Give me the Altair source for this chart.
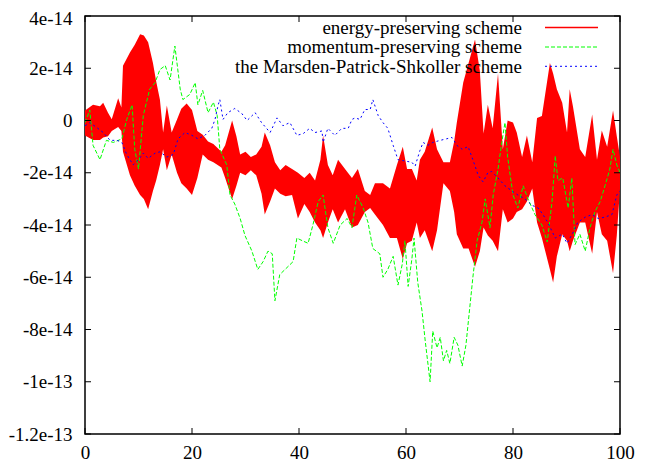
import altair as alt
import pandas as pd

# ---------------- data (y values in units of 1e-14) ----------------
X_TICKS = [0, 20, 40, 60, 80, 100]
Y_TICKS = [4, 2, 0, -2, -4, -6, -8, -10, -12]
Y_TICK_LABELS = ["4e-14", "2e-14", "0", "-2e-14", "-4e-14", "-6e-14", "-8e-14", "-1e-13", "-1.2e-13"]
SERIES = ["energy-preserving scheme", "momentum-preserving scheme", "the Marsden-Patrick-Shkoller scheme"]
COLORS = ["#ff0000", "#00ff00", "#0000ff"]

energy_x = [0, 1.5, 2.8, 3.4, 4.3, 5.0, 6.2, 6.8, 7.1, 8.4,
            9.3, 10.3, 11.0, 11.8, 12.7, 13.3, 14.0, 14.6, 15.3, 16.2,
            17.2, 18.0, 19.0, 20.0, 21.0, 22.0, 23.0, 24.0, 25.5, 26.2,
            27.5, 28.3, 29.0, 30.0, 31.0, 32.0, 33.0, 33.6, 34.6, 35.5,
            36.5, 37.5, 38.7, 39.8, 41.0, 42.0, 43.0, 44.0, 44.5, 45.4,
            46.3, 47.3, 48.6, 49.9, 51.0, 52.3, 53.3, 54.2, 55.7, 57.0,
            58.3, 59.4, 60.2, 61.1, 62.0, 62.6, 63.5, 64.9, 65.8, 67.0,
            68.2, 69.0, 69.5, 70.7, 71.7, 72.9, 73.8, 74.5, 75.3, 76.2,
            77.2, 78.1, 79.0, 80.0, 80.7, 81.7, 82.6, 83.6, 84.5, 85.4,
            86.9, 87.5, 88.2, 89.2, 90.1, 90.6, 91.2, 92.5, 93.5, 94.8,
            95.7, 96.6, 97.6, 98.7, 99.4, 100]
energy_upper = [0.38, 0.6, 0.55, 0.68, 0.3, 0.05, 0.85, 0.5, 2.1, 2.6,
                2.9, 3.3, 3.25, 3.0, 2.2, 1.5, 0.8, -0.46, 0.57, -0.46,
                0.04, 0.45, 0.65, 0.4, -0.4, -0.55, -0.8, -0.9, -1.2, -0.95,
                0.0, -0.6, -1.3, -1.2, -1.4, -1.3, -1.0, -0.46, -0.95, -1.6,
                -1.9, -1.7, -1.86, -2.0, -2.2, -2.0, -2.3, -1.5, -0.57, -1.7,
                -2.1, -1.5, -1.86, -2.2, -1.86, -2.7, -2.85, -2.4, -2.4, -2.6,
                -1.7, -1.0, -1.86, -1.86, -2.3, -1.5, -1.2, -0.27, -1.1, -1.6,
                -1.6, -0.8, -0.08, 1.45, 2.2, 3.1, 1.9, -0.5, 0.6, -0.3,
                1.8, -1.1, 0.0, -0.08, -0.46, -1.4, -0.57, -1.6, 0.1, 0.17,
                2.2, 1.8, 1.2, 0.68, -0.46, 1.2, 0.55, -1.1, -1.4, 0.23,
                -1.5, -0.38, -1.0, 0.38, -0.6, -1.4]
energy_lower = [-0.57, -0.75, -0.75, -0.65, -0.6, -0.4, -0.25, -0.4, -1.2, -2.1,
                -2.5, -2.85, -3.0, -3.4, -2.7, -2.3, -1.7, -1.1, -1.9, -1.3,
                -2.0, -2.4, -2.6, -2.85, -2.2, -1.3, -1.5, -1.6, -1.8, -2.2,
                -3.0, -2.5, -2.0, -2.1, -1.9, -2.1, -2.8, -3.6, -3.1, -2.6,
                -2.8, -2.9, -2.85, -3.75, -3.2, -3.5, -3.9, -4.2, -4.5, -3.9,
                -3.4, -3.9, -3.4, -4.1, -4.0, -3.5, -3.35, -3.6, -4.0, -4.5,
                -4.5, -5.3, -4.7, -4.6, -3.9, -4.5, -4.2, -5.0, -4.2, -2.4,
                -2.7, -3.5, -4.35, -4.9, -4.9, -5.6, -5.0, -4.1, -4.4, -4.6,
                -5.0, -3.4, -3.9, -3.75, -3.5, -3.4, -3.1, -2.6, -3.9, -4.5,
                -5.7, -6.2, -5.2, -4.35, -4.6, -5.0, -4.6, -3.9, -3.9, -5.1,
                -3.5, -4.35, -4.6, -5.85, -4.4, -2.6]

momentum_x = [0, 0.9, 1.5, 2.8, 4, 5.3, 6.9, 7.8, 8.8, 9.3, 10, 10.9, 12.1, 13.1, 14, 15,
              15.9, 16.8, 17.8, 18.3, 19.6, 20.6, 21.1, 22, 23, 24, 24.7, 25.2, 26.5, 27.1,
              28, 29, 29.9, 31.2, 32.3, 33.3, 34.2, 35, 35.5, 36.4, 37.4, 38.9, 39.6, 40.6,
              41.7, 42.6, 43.6, 44.5, 45.4, 46.4, 47.7, 49, 49.9, 50.8, 52, 52.9, 53.8, 55.1,
              55.7, 56.6, 57.6, 58.5, 59.3, 59.8, 60.4, 61.1, 61.5, 62.2, 63, 63.6, 64.5, 65,
              65.8, 66.4, 67, 67.6, 68.2, 69, 69.7, 70.5, 71.2, 71.8, 72.5, 73.3, 74.2, 74.8,
              75.7, 76.3, 77.2, 77.9, 78.5, 79, 80, 80.9, 81.9, 82.8, 84.1, 85.4, 86.4, 87.3,
              87.9, 88.4, 89.3, 90.3, 91, 91.6, 92.5, 93.5, 94.4, 95.3, 96.3, 97.2, 98.1, 98.7,
              99.4, 100]
momentum_y = [-0.08, 0.4, -0.95, -1.5, -0.76, -0.84, -0.7, 0.04, 0.6, -1.1, -1.86, 0.2, 1.2, 1.45, 1.95, 2.1,
              1.55, 2.85, 1.2, 0.8, 1.0, 1.45, 0.6, 1.15, 0.3, 0.7, 0.2, -1.1, -1.7, -2.85,
              -3.2, -3.75, -4.4, -5.0, -5.7, -5.4, -5.0, -5.1, -6.9, -5.9, -5.7, -5.4, -4.5, -4.6,
              -4.7, -4.0, -3.1, -2.85, -4.1, -4.7, -4.0, -3.75, -4.1, -2.85, -3.35, -3.9, -4.9, -5.1,
              -6.0, -5.7, -5.2, -6.3, -5.5, -4.6, -6.35, -5.3, -4.5, -6.2, -7.3, -8.45, -10.0, -8.06,
              -8.7, -8.3, -9.2, -8.8, -9.3, -8.3, -8.6, -9.4, -8.6, -7.4, -6.0, -4.6, -3.9, -3.0,
              -4.1, -2.85, -1.86, -0.84, -0.08, -1.4, -2.85, -3.35, -2.5, -3.0, -3.6, -4.0, -4.65, -3.1,
              -1.35, -2.3, -2.2, -3.35, -2.2, -4.75, -4.35, -5.0, -4.1, -3.5, -3.1, -2.5, -1.86, -1.1,
              -1.7, -2.0]

mps_x = [0, 0.9, 2.2, 3.4, 4.7, 6, 6.9, 7.8, 9, 10, 10.9, 11.8, 13.1, 14, 15.3, 16.5, 17.4,
         18.7, 20, 21.1, 22.4, 23.7, 24.3, 24.9, 25.2, 25.8, 26.7, 28, 29.3, 30.3, 31.8, 33,
         34.6, 35.9, 37, 38.3, 39.6, 40.8, 42, 43, 44.3, 44.5, 45.4, 46.7, 48, 49.2, 49.9, 50.5,
         51.4, 52.3, 53.3, 53.8, 54.8, 55.7, 56.6, 57.6, 58.5, 59.8, 61.1, 61.7, 62.6, 63.2,
         64.1, 65, 66.4, 67.6, 68.6, 69.5, 70.5, 71.6, 72.5, 73.5, 74.4, 75.3, 76, 77.2, 78.5,
         79.8, 80.9, 82.2, 83.6, 84.7, 85.6, 86.5, 87.9, 89.2, 90.1, 91.2, 92.1, 93.5, 94.8,
         95.9, 97.2, 98.5, 99.4, 100]
mps_y = [-0.2, -0.08, -0.27, -0.46, -0.76, -0.76, -0.84, -1.3, -1.7, -1.5, -1.25, -1.45, -1.25, -1.2, -1.4, -1.3, -0.7,
         -0.46, -0.57, -0.7, -0.57, -0.3, 0.04, 0.6, 0.8, 0.04, 0.3, 0.46, 0.27, 0.0, 0.3, -0.08,
         -0.46, 0.1, -0.2, -0.08, -0.57, -0.5, -0.3, -0.46, -0.4, -0.84, -0.3, -0.57, -0.3, -0.3, 0.04, 0.1,
         0.04, 0.42, 0.42, 0.8, 0.19, -0.08, -0.3, -0.95, -1.5, -1.55, -1.6, -1.75, -1.15, -0.84,
         -0.95, -0.84, -0.76, -0.7, -0.65, -0.95, -1.1, -1.0, -1.5, -2.1, -2.35, -2.0, -1.95, -2.2, -2.5,
         -2.7, -2.85, -3.0, -3.25, -3.35, -3.6, -3.9, -4.5, -4.35, -4.7, -4.3, -3.9, -3.7, -3.6,
         -3.75, -3.7, -3.6, -2.85, -2.7]

# ---------------- frames ----------------
energy_df = pd.DataFrame({"x": energy_x, "lo": energy_lower, "hi": energy_upper})
momentum_df = pd.DataFrame({"x": momentum_x, "y": momentum_y})
mps_df = pd.DataFrame({"x": mps_x, "y": mps_y})
xtick_df = pd.DataFrame({"x": X_TICKS})
ytick_df = pd.DataFrame({"y": Y_TICKS})

W, H = 535, 418
FONT = "Liberation Serif"
FS = 19
TICK = 6

label_expr = " : ".join(f"datum.value == {v} ? '{l}'" for v, l in zip(Y_TICKS, Y_TICK_LABELS)) + " : ''"

xscale = alt.Scale(domain=[0, 100], nice=False, zero=False)
yscale = alt.Scale(domain=[-12, 4], nice=False, zero=False)
xaxis = alt.Axis(values=X_TICKS, title=None, domain=False, ticks=False, tickSize=0, grid=False,
                 labelFont=FONT, labelFontSize=FS, labelColor="black", labelPadding=9,
                 labelFlush=False, labelOverlap=False)
yaxis = alt.Axis(values=Y_TICKS, title=None, domain=False, ticks=False, tickSize=0, grid=False,
                 labelFont=FONT, labelFontSize=FS, labelColor="black", labelPadding=13,
                 labelFlush=False, labelOverlap=False, labelExpr=label_expr,
                 labelOffset={"condition": {"test": f"datum.value == {Y_TICKS[0]}", "value": 2}, "value": 0})


def X(field="x"):
    return alt.X(f"{field}:Q", scale=xscale, axis=xaxis)


def Y(field="y"):
    return alt.Y(f"{field}:Q", scale=yscale, axis=yaxis)


energy = alt.Chart(energy_df).mark_area(color=COLORS[0], opacity=1, interpolate="linear").encode(
    x=X(), y=Y("lo"), y2="hi:Q")
momentum = alt.Chart(momentum_df).mark_line(color=COLORS[1], strokeWidth=1, strokeDash=[4, 2], clip=True).encode(
    x=X(), y=Y())
mps = alt.Chart(mps_df).mark_line(color=COLORS[2], strokeWidth=1, strokeDash=[2, 3], clip=True).encode(
    x=X(), y=Y())

# inward ticks on all four sides (gnuplot style)
tick_left = alt.Chart(ytick_df).mark_rule(color="black", strokeWidth=1).encode(
    y=Y(), x=alt.value(0), x2=alt.value(TICK))
tick_right = alt.Chart(ytick_df).mark_rule(color="black", strokeWidth=1).encode(
    y=Y(), x=alt.value(W), x2=alt.value(W - TICK))
tick_bottom = alt.Chart(xtick_df).mark_rule(color="black", strokeWidth=1).encode(
    x=X(), y=alt.value(H), y2=alt.value(H - TICK))
tick_top = alt.Chart(xtick_df).mark_rule(color="black", strokeWidth=1).encode(
    x=X(), y=alt.value(0), y2=alt.value(TICK))

# key (labels left of the line samples, as in gnuplot)
key_text_x = 437
key_x0, key_x1 = 460, 513
key_rows = [11.6, 31.0, 50.3]
dashes = [None, [4, 2], [2, 3]]
key_layers = []
for name, color, dash, ry in zip(SERIES, COLORS, dashes, key_rows):
    key_layers.append(
        alt.Chart(pd.DataFrame({"label": [name]})).mark_text(
            align="right", baseline="alphabetic", font=FONT, fontSize=FS, color="black"
        ).encode(text="label:N", x=alt.value(key_text_x), y=alt.value(ry + 6.2))
    )
    rule_kwargs = dict(color=color, strokeWidth=1.5 if dash is None else 1)
    if dash is not None:
        rule_kwargs["strokeDash"] = dash
    key_layers.append(
        alt.Chart(pd.DataFrame({"label": [name]})).mark_rule(**rule_kwargs).encode(
            x=alt.value(key_x0), x2=alt.value(key_x1), y=alt.value(ry))
    )

chart = alt.layer(
    energy, momentum, mps, tick_left, tick_right, tick_bottom, tick_top, *key_layers
).properties(
    width=W, height=H,
    autosize=alt.AutoSizeParams(type="none"),
    padding={"left": 77, "top": 8, "right": 18, "bottom": 30},
    background="white",
).configure_view(
    stroke="black", strokeWidth=1.5
)

chart.save("out.html", embed_options={"renderer": "svg", "actions": False})
